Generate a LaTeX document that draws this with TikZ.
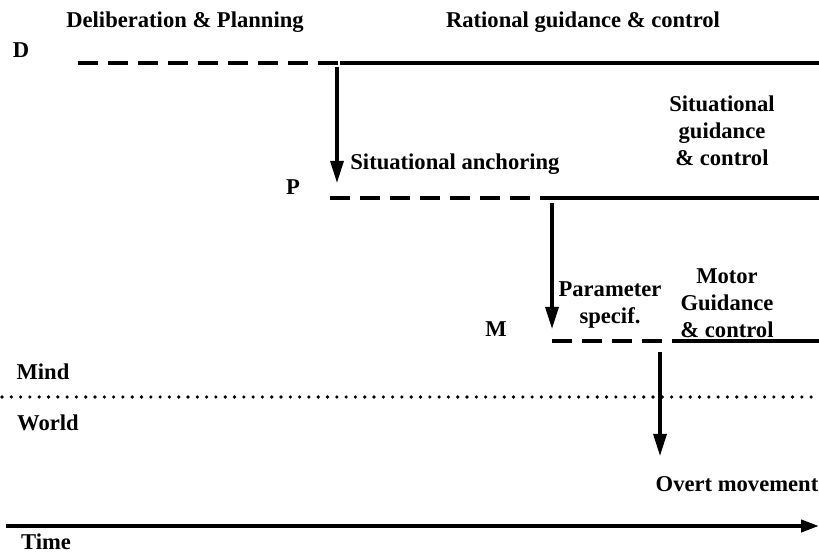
\documentclass[tikz,border=0pt]{standalone}
\usepackage{fontspec}
\setmainfont{Liberation Serif}
\usetikzlibrary{arrows.meta}
\tikzset{
  lbl/.style={font=\fontsize{11.3}{13.5}\selectfont\bfseries, inner sep=0pt, align=center},
  dashline/.style={line width=1.9pt, dash pattern=on 10pt off 5pt},
  solidline/.style={line width=1.9pt},
  down/.style={line width=1.6pt, -{Triangle[length=11pt,width=6.5pt]}}
}
\begin{document}
\begin{tikzpicture}[x=0.5pt,y=-0.5pt]
\useasboundingbox (0,0) rectangle (819,555);
% the three levels: dashed while preparing, solid while guiding
\foreach \lv/\y/\xa/\xb in {d/63/78/340, p/198/330/558, m/341/552/680} {
  \coordinate (\lv0) at (\xa,\y);
  \coordinate (\lv1) at (\xb,\y);
  \coordinate (\lv2) at (819,\y);
  \draw[dashline] (\lv0) -- (\lv1);
  \draw[solidline] (\lv1) -- (\lv2);
}
% transitions
\coordinate (dp0) at (337,67);  \coordinate (dp1) at (337,183);
\coordinate (pm0) at (552,203); \coordinate (pm1) at (552,329);
\coordinate (mw0) at (660,352); \coordinate (mw1) at (660,456);
\draw[down] (dp0) -- (dp1);
\draw[down] (pm0) -- (pm1);
\draw[down] (mw0) -- (mw1);
% mind / world border and time axis
\coordinate (mind0) at (2,397); \coordinate (mind1) at (819,397);
\draw[line width=1.8pt, line cap=round, dash pattern=on 0pt off 4.65pt] (mind0) -- (mind1);
\coordinate (t0) at (6,526); \coordinate (t1) at (819,526);
\draw[line width=2pt, -{Triangle[length=9pt,width=6pt]}] (t0) -- (t1);
% labels
\node[lbl] (delib) at (185,22) {Deliberation \& Planning};
\node[lbl] (ratio) at (583,22) {Rational guidance \& control};
\node[lbl] (D) at (21,50) {D};
\node[lbl] (P) at (293,187) {P};
\node[lbl] (M) at (496,329) {M};
\node[lbl, anchor=west] (anchor) at (350,164) {Situational anchoring};
\node[lbl] (sitgc) at (722,131) {Situational\\guidance\\\& control};
\node[lbl] (param) at (610,305) {Parameter\\specif.};
\node[lbl] (motgc) at (727,303) {Motor\\Guidance\\\& control};
\node[lbl] (mind) at (43,372) {Mind};
\node[lbl] (world) at (48,423) {World};
\node[lbl] (overt) at (737,484) {Overt movement};
\node[lbl] (time) at (46,542) {Time};
\end{tikzpicture}
\end{document}
